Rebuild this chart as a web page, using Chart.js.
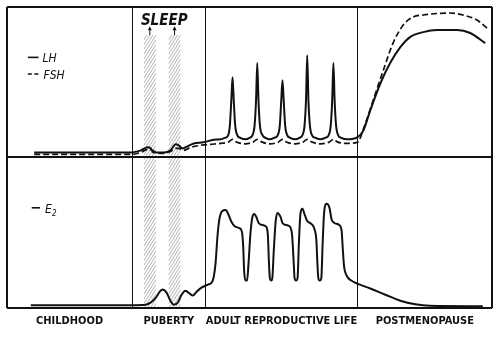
<!DOCTYPE html>
<html>
<head>
<meta charset="utf-8">
<script src="https://cdn.jsdelivr.net/npm/chart.js@4/dist/chart.umd.min.js"></script>
<style>
  html, body { margin: 0; padding: 0; background: #fff; }
  canvas { display: block; }
</style>
</head>
<body>
<canvas id="cycle" width="500" height="337"></canvas>
<script>
// life stages along the time axis (0-100), stage edges and names
const stageEdges = [0, 25.8, 40.9, 72.3, 100];
const stageNames = ['CHILDHOOD', 'PUBERTY', 'ADULT REPRODUCTIVE LIFE', 'POSTMENOPAUSE'];

// nocturnal pulses at puberty: [from, to] on the time axis, top in gonadotropin units
const sleepBands = [[28.2, 30.7], [33.3, 35.8]];
const sleepTop = 81.3;

// gonadotropins (upper panel), [time, level]
const lh = [
  [5.6, 3.3], [23.5, 3.3], [25.5, 3.3], [27.6, 4.7], [29.0, 6.7], [29.6, 6.0], [30.2, 3.3],
  [32.3, 3.3], [33.7, 4.7], [34.8, 8.7], [35.4, 8.0], [36.2, 6.0], [37.2, 7.3], [38.5, 9.3],
  [40.5, 10.0], [42.6, 11.7], [44.0, 12.0],
  [44.9, 13.0], [45.6, 14.7], [45.95, 21.3], [46.25, 38.0], [46.5, 53.3], [46.75, 38.0], [47.05, 21.3], [47.5, 14.7], [48.1, 13.0], [49.2, 12.0],
  [50.0, 13.0], [50.6, 14.7], [51.05, 21.3], [51.35, 38.0], [51.6, 62.7], [51.85, 38.0], [52.15, 21.3], [52.7, 14.7], [53.3, 13.0], [54.2, 12.0],
  [55.1, 13.0], [55.8, 14.7], [56.25, 21.3], [56.55, 38.0], [56.8, 51.3], [57.05, 38.0], [57.35, 21.3], [57.8, 14.7], [58.4, 13.0], [59.4, 12.0],
  [60.3, 13.0], [60.9, 14.7], [61.35, 21.3], [61.65, 38.0], [61.9, 68.0], [62.15, 38.0], [62.45, 21.3], [62.9, 14.7], [63.6, 13.0], [64.6, 12.0],
  [65.6, 13.0], [66.3, 14.7], [66.75, 21.3], [67.05, 38.0], [67.3, 62.7], [67.55, 38.0], [67.85, 21.3], [68.3, 14.7], [68.9, 13.0], [70.2, 12.0],
  [72.2, 13.3], [73.5, 18.0], [74.9, 31.3], [77.0, 49.3], [79.0, 62.7], [81.1, 73.3], [83.1, 80.0],
  [85.8, 83.3], [88.7, 84.7], [92.8, 84.7], [95.5, 82.7], [98.6, 76.0]
];
const fsh = [
  [5.6, 2.0], [25.5, 2.0], [27.6, 3.3], [29.0, 5.3], [30.0, 4.7], [31.1, 2.7], [32.3, 2.7],
  [33.7, 4.0], [34.8, 6.0], [35.4, 6.0], [36.4, 4.7], [37.9, 6.7], [39.9, 8.0], [42.0, 8.7],
  [44.0, 9.3], [45.7, 10.3], [46.5, 12.0], [47.3, 10.3], [49.1, 9.0], [50.8, 10.3], [51.6, 12.0],
  [52.5, 10.3], [54.2, 9.0], [56.0, 10.3], [56.8, 12.0], [57.6, 10.3], [59.4, 9.0], [61.1, 10.3],
  [61.9, 12.0], [62.8, 10.3], [64.6, 9.0], [66.5, 10.3], [67.3, 12.0], [68.1, 10.3], [70.0, 9.3],
  [72.2, 10.0], [73.9, 22.7], [75.5, 38.0], [77.6, 58.0], [79.6, 76.0], [81.7, 88.0], [83.7, 93.3],
  [85.8, 94.7], [91.4, 96.0], [94.0, 94.7], [96.9, 91.3], [99.2, 85.3]
];

// estradiol (lower panel), [time, level]
const e2 = [
  [4.9, 1.7], [25.7, 1.7], [28.6, 2.0], [29.6, 3.4], [30.7, 6.7], [31.5, 10.7], [32.1, 12.1],
  [32.9, 10.1], [33.7, 4.7], [34.4, 2.0], [35.2, 3.4], [36.0, 8.7], [36.8, 11.4], [37.7, 9.4],
  [38.3, 8.1], [39.1, 10.7], [40.1, 13.4], [41.4, 15.4], [42.2, 16.8],
  [42.6, 20.1], [43.0, 29.5], [43.4, 47.7], [43.8, 59.1], [44.4, 64.4], [45.1, 65.1], [45.7, 61.7],
  [46.3, 57.0], [46.9, 54.4], [47.9, 53.0], [48.4, 51.0], [48.7, 40.9], [48.9, 24.2], [49.2, 18.1], [49.5, 18.1],
  [49.8, 29.5], [50.2, 49.7], [50.6, 60.4], [51.0, 62.4], [51.4, 60.4], [51.9, 56.4], [52.7, 55.0],
  [53.5, 53.7], [53.8, 47.7], [54.0, 30.9], [54.2, 19.5], [54.5, 18.1], [54.7, 19.5],
  [55.0, 37.6], [55.4, 57.7], [55.8, 63.1], [56.4, 60.4], [56.8, 56.4], [57.6, 55.0], [58.4, 53.7],
  [58.8, 47.7], [59.1, 30.9], [59.3, 19.5], [59.6, 18.1], [59.9, 19.5],
  [60.2, 44.3], [60.5, 62.4], [60.9, 65.8], [61.4, 61.7], [61.9, 57.7], [62.8, 55.7], [63.4, 52.3],
  [63.8, 44.3], [64.0, 29.5], [64.2, 19.5], [64.5, 18.1], [64.8, 19.5],
  [65.1, 44.3], [65.4, 63.8], [65.9, 69.1], [66.5, 66.4], [66.9, 59.1], [67.5, 56.4], [68.5, 55.0],
  [69.0, 51.0], [69.2, 40.9], [69.5, 27.5], [70.0, 21.5], [71.0, 18.1], [72.2, 16.1],
  [74.9, 12.8], [78.0, 8.7], [81.1, 4.7], [84.2, 2.3], [87.2, 1.3], [98.1, 1.0]
];

const ink = '#111';
const face = '"DejaVu Sans Condensed", "Liberation Sans Narrow", "Liberation Sans", sans-serif';

const stageMids = stageNames.map((n, i) => (stageEdges[i] + stageEdges[i + 1]) / 2);
const isEdge = v => stageEdges.includes(v);

// hatched bands, arrows, SLEEP caption and the little line keys
const decor = {
  id: 'decor',
  beforeDraw(chart) {
    const { ctx, scales: { x, yTop, yBottom } } = chart;
    ctx.save();
    ctx.strokeStyle = '#a8a8a8';
    ctx.lineWidth = 0.9;
    sleepBands.forEach(([a, b]) => {
      const left = x.getPixelForValue(a), right = x.getPixelForValue(b);
      const top = yTop.getPixelForValue(sleepTop), bottom = yBottom.getPixelForValue(0);
      const rise = (right - left) * 1.6;
      ctx.save();
      ctx.beginPath();
      ctx.rect(left, top, right - left, bottom - top);
      ctx.clip();
      ctx.beginPath();
      for (let y = top; y < bottom + rise; y += 4.8) {
        ctx.moveTo(left, y);
        ctx.lineTo(right, y - rise);
      }
      ctx.stroke();
      ctx.restore();
    });
    ctx.restore();
  },
  afterDraw(chart) {
    const { ctx, scales: { x, yTop, yBottom } } = chart;
    ctx.save();
    ctx.strokeStyle = ink;
    ctx.fillStyle = ink;

    // arrows up from each band
    const y0 = yTop.getPixelForValue(sleepTop), y1 = yTop.getPixelForValue(86.5);
    const centers = sleepBands.map(([a, b]) => x.getPixelForValue((a + b) / 2));
    ctx.lineWidth = 1;
    centers.forEach(cx => {
      ctx.beginPath();
      ctx.moveTo(cx, y0);
      ctx.lineTo(cx, y1 + 2);
      ctx.stroke();
      ctx.beginPath();
      ctx.moveTo(cx, y1 - 1);
      ctx.lineTo(cx - 2, y1 + 3);
      ctx.lineTo(cx + 2, y1 + 3);
      ctx.closePath();
      ctx.fill();
    });

    ctx.font = 'italic bold 15px ' + face;
    ctx.textAlign = 'center';
    ctx.textBaseline = 'alphabetic';
    ctx.fillText('SLEEP', (centers[0] + centers[1]) / 2 + 2, yTop.getPixelForValue(88));

    // keys
    ctx.textAlign = 'left';
    ctx.font = 'italic 12px ' + face;
    const kx0 = x.getPixelForValue(4.3), kx1 = x.getPixelForValue(6.5);
    ctx.lineWidth = 1.6;
    let ky = yTop.getPixelForValue(66.5);
    ctx.beginPath(); ctx.moveTo(kx0, ky); ctx.lineTo(kx1, ky); ctx.stroke();
    ctx.fillText('LH', kx1 + 4, ky + 5);

    ky = yTop.getPixelForValue(55.5);
    ctx.setLineDash([4, 2.5]);
    ctx.beginPath(); ctx.moveTo(kx0, ky); ctx.lineTo(kx1 + 1, ky); ctx.stroke();
    ctx.setLineDash([]);
    ctx.fillText('FSH', kx1 + 5, ky + 5);

    ky = yBottom.getPixelForValue(66.5);
    const ex0 = x.getPixelForValue(5.1), ex1 = x.getPixelForValue(6.8);
    ctx.beginPath(); ctx.moveTo(ex0, ky); ctx.lineTo(ex1, ky); ctx.stroke();
    ctx.fillText('E', ex1 + 5, ky + 5);
    ctx.font = 'italic 8px ' + face;
    ctx.fillText('2', ex1 + 12, ky + 8);
    ctx.restore();
  }
};

const panelAxis = {
  type: 'linear',
  position: 'left',
  stack: 'panels',
  stackWeight: 1,
  min: 0,
  max: 100,
  afterBuildTicks: s => { s.ticks = [{ value: 0 }, { value: 100 }]; },
  grid: { color: ink, lineWidth: 2, drawTicks: false },
  border: { display: false },
  ticks: { display: false }
};

const line = (data, axis, dash) => ({
  data,
  yAxisID: axis,
  borderColor: ink,
  borderWidth: dash ? 1.7 : 2,
  borderDash: dash || [],
  pointRadius: 0,
  fill: false,
  cubicInterpolationMode: 'monotone'
});

new Chart(document.getElementById('cycle'), {
  type: 'line',
  data: {
    datasets: [
      line(fsh, 'yTop', [6, 3]),
      line(lh, 'yTop'),
      line(e2, 'yBottom')
    ]
  },
  options: {
    responsive: false,
    animation: false,
    devicePixelRatio: 1,
    layout: { padding: { left: 6, right: 8, top: 7, bottom: 2 } },
    plugins: { legend: { display: false }, tooltip: { enabled: false } },
    scales: {
      x: {
        type: 'linear',
        min: 0,
        max: 100,
        afterBuildTicks: s => {
          s.ticks = stageEdges.concat(stageMids).sort((a, b) => a - b).map(v => ({ value: v }));
        },
        grid: {
          drawTicks: false,
          color: c => isEdge(c.tick.value) ? ink : 'rgba(0,0,0,0)',
          lineWidth: c => (c.tick.value === 0 || c.tick.value === 100) ? 2 : 1
        },
        border: { display: false },
        ticks: {
          autoSkip: false,
          maxRotation: 0,
          minRotation: 0,
          padding: 7,
          color: ink,
          font: { family: face, size: 11, weight: 'bold' },
          callback: v => {
            const i = stageMids.indexOf(v);
            return i < 0 ? '' : stageNames[i];
          }
        }
      },
      yBottom: panelAxis,
      yTop: Object.assign({}, panelAxis)
    }
  },
  plugins: [decor]
});
</script>
</body>
</html>
